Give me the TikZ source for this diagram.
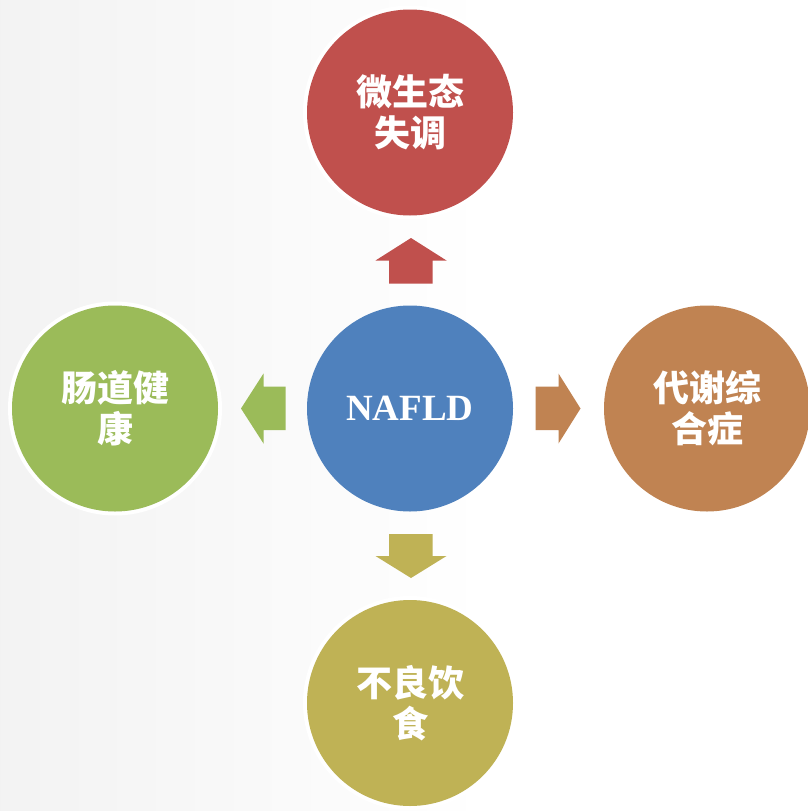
\documentclass[tikz,border=0pt]{standalone}
\usepackage{fontspec}
\setmainfont{Liberation Serif}
\newfontfamily\cjk{Noto Sans CJK SC}
\definecolor{cred}{RGB}{192,80,77}
\definecolor{cblue}{RGB}{79,129,189}
\definecolor{corange}{RGB}{192,131,82}
\definecolor{cgreen}{RGB}{155,187,89}
\definecolor{colive}{RGB}{191,178,85}
\pgfdeclarehorizontalshading{bgshade}{100bp}{color(0bp)=(black!9); color(55bp)=(white); color(100bp)=(white)}
\begin{document}
\begin{tikzpicture}[x=1pt,y=-1pt,
  disc/.style={circle, minimum size=206pt, inner sep=0pt, text=white, align=center,
    font=\cjk\bfseries\fontsize{36}{41}\selectfont},
  ring/.style={draw=white, line width=4pt},
  blockarrow/.style={draw=none}]
\useasboundingbox (0,0) rectangle (808,811);
\shade[shading=bgshade] (0,0) rectangle (808,811);
% rings
\foreach \p in {(410,112.5),(115,408.5),(707,408.5),(410,703)}
  \draw[ring] \p circle[radius=105];
\node[disc, fill=cblue] (c) at (410,408.5) {\normalfont\bfseries\fontsize{37}{40}\selectfont NAFLD};
\node[disc, fill=cred] (t) at (410,112.5) {微生态\\失调};
\node[disc, fill=cgreen] (l) at (115,408.5) {肠道健\\康};
\node[disc, fill=corange] (r) at (707,408.5) {代谢综\\合症};
\node[disc, fill=colive] (b) at (410,703) {不良饮\\食};
% block arrows
\fill[cred] (389,283.5) -- (389,260.5) -- (375.5,260.5) -- (411,238) -- (446.5,260.5) -- (432.5,260.5) -- (432.5,283.5) -- cycle;
\fill[colive] (389,534) -- (389,556) -- (375.5,556) -- (411,578) -- (446.5,556) -- (432.5,556) -- (432.5,534) -- cycle;
\fill[cgreen] (285.5,386.5) -- (263.5,386.5) -- (263.5,373.5) -- (241,408.5) -- (263.5,443.5) -- (263.5,430) -- (285.5,430) -- cycle;
\fill[corange] (535.5,386.5) -- (558.5,386.5) -- (558.5,373.5) -- (580.5,408.5) -- (558.5,443.5) -- (558.5,430) -- (535.5,430) -- cycle;
\end{tikzpicture}
\end{document}
